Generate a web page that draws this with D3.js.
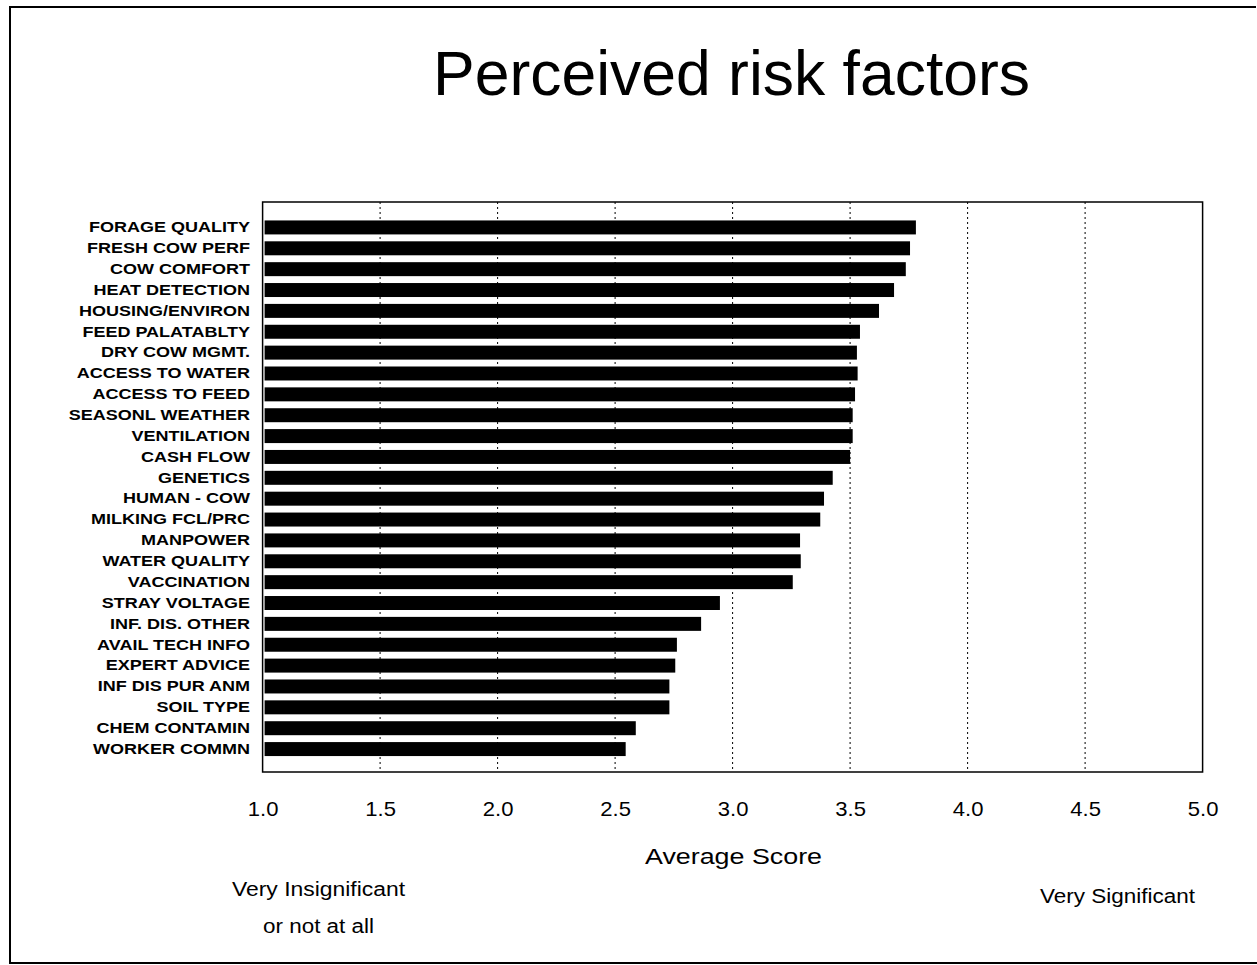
<!DOCTYPE html>
<html>
<head>
<meta charset="utf-8">
<script src="https://cdn.jsdelivr.net/npm/d3@7"></script>
<style>
  html, body { margin: 0; padding: 0; background: #fff; }
  svg { display: block; }
</style>
</head>
<body>
<svg id="chart" width="1257" height="965"></svg>
<script>
// Risk factors, ranked by average score (top to bottom)
const factors = [
  "FORAGE QUALITY", "FRESH COW PERF", "COW COMFORT", "HEAT DETECTION",
  "HOUSING/ENVIRON", "FEED PALATABLTY", "DRY COW MGMT.", "ACCESS TO WATER",
  "ACCESS TO FEED", "SEASONL WEATHER", "VENTILATION", "CASH FLOW",
  "GENETICS", "HUMAN - COW", "MILKING FCL/PRC", "MANPOWER",
  "WATER QUALITY", "VACCINATION", "STRAY VOLTAGE", "INF. DIS. OTHER",
  "AVAIL TECH INFO", "EXPERT ADVICE", "INF DIS PUR ANM", "SOIL TYPE",
  "CHEM CONTAMIN", "WORKER COMMN"
];

const scores = [
  3.78, 3.755, 3.737, 3.687,
  3.623, 3.542, 3.529, 3.532,
  3.521, 3.511, 3.511, 3.50,
  3.426, 3.389, 3.373, 3.287,
  3.290, 3.256, 2.946, 2.866,
  2.763, 2.756, 2.731, 2.731,
  2.588, 2.545
];

const tickValues = [1.0, 1.5, 2.0, 2.5, 3.0, 3.5, 4.0, 4.5, 5.0];

const titleText = "Perceived risk factors";
const axisTitle = "Average Score";
const lowEndNote = ["Very Insignificant", "or not at all"];
const highEndNote = "Very Significant";

const svg = d3.select("#chart");
const font = "'Liberation Sans', Arial, Helvetica, sans-serif";

// widen a text node horizontally, either by a factor or to a fixed width
function stretch(node, factor, width) {
  const w = node.getComputedTextLength();
  const target = width != null ? width : w * factor;
  node.setAttribute("textLength", target);
  node.setAttribute("lengthAdjust", "spacingAndGlyphs");
}

// outer frame
svg.append("path")
  .attr("d", "M1256,7 L10,7 L10,963 L1257,963")
  .attr("fill", "none")
  .attr("stroke", "#000")
  .attr("stroke-width", 2);

const plot = { left: 262.6, right: 1202.6, top: 202, bottom: 772 };

const x = d3.scaleLinear().domain([1, 5]).range([plot.left, plot.right]);
const y = d3.scaleBand()
  .domain(factors)
  .range([plot.top + 15, plot.bottom - 12.5])
  .paddingInner(0.33)
  .paddingOuter(0.165);

// title
svg.append("text")
  .attr("x", 731.5).attr("y", 95)
  .attr("text-anchor", "middle")
  .attr("font-family", font)
  .attr("font-size", 63)
  .attr("fill", "#000")
  .text(titleText)
  .each(function () { stretch(this, null, 597); });

// dotted vertical gridlines
svg.append("g")
  .selectAll("line")
  .data(tickValues.filter(v => v > 1 && v < 5))
  .join("line")
  .attr("x1", d => x(d)).attr("x2", d => x(d))
  .attr("y1", plot.top).attr("y2", plot.bottom)
  .attr("stroke", "#000")
  .attr("stroke-width", 1)
  .attr("stroke-dasharray", "2,3");

// bars
svg.append("g")
  .selectAll("rect")
  .data(factors.map((f, i) => ({ f, v: scores[i] })))
  .join("rect")
  .attr("x", x(1) + 2)
  .attr("y", d => y(d.f))
  .attr("width", d => x(d.v) - x(1) - 2)
  .attr("height", y.bandwidth())
  .attr("fill", "#000");

// plot frame
svg.append("rect")
  .attr("x", plot.left).attr("y", plot.top)
  .attr("width", plot.right - plot.left)
  .attr("height", plot.bottom - plot.top)
  .attr("fill", "none")
  .attr("stroke", "#000")
  .attr("stroke-width", 1.5);

// category labels
const yAxis = d3.axisLeft(y).tickSize(0).tickPadding(12.5);
const yg = svg.append("g")
  .attr("transform", `translate(${plot.left},0)`)
  .call(yAxis);
yg.select(".domain").remove();
yg.selectAll("text")
  .attr("font-family", font)
  .attr("font-weight", "bold")
  .attr("font-size", 15)
  .attr("fill", "#000")
  .each(function () { stretch(this, 1.2); });

// score axis labels
const xAxis = d3.axisBottom(x)
  .tickValues(tickValues)
  .tickFormat(d3.format(".1f"))
  .tickSize(0)
  .tickPadding(29);
const xg = svg.append("g")
  .attr("transform", `translate(0,${plot.bottom})`)
  .call(xAxis);
xg.select(".domain").remove();
xg.selectAll("text")
  .attr("font-family", font)
  .attr("font-size", 21)
  .attr("fill", "#000")
  .each(function () { stretch(this, 1.05); });

// axis title
svg.append("text")
  .attr("x", 733.5).attr("y", 864)
  .attr("text-anchor", "middle")
  .attr("font-family", font)
  .attr("font-size", 22)
  .attr("fill", "#000")
  .text(axisTitle)
  .each(function () { stretch(this, null, 177); });

// scale end notes
const lowWidths = [173, 111];
svg.append("g")
  .selectAll("text")
  .data(lowEndNote)
  .join("text")
  .attr("x", 318.5)
  .attr("y", (d, i) => 896 + i * 37)
  .attr("text-anchor", "middle")
  .attr("font-family", font)
  .attr("font-size", 20)
  .attr("fill", "#000")
  .text(d => d)
  .each(function (d, i) { stretch(this, null, lowWidths[i]); });

svg.append("text")
  .attr("x", 1117.5).attr("y", 903)
  .attr("text-anchor", "middle")
  .attr("font-family", font)
  .attr("font-size", 20)
  .attr("fill", "#000")
  .text(highEndNote)
  .each(function () { stretch(this, null, 155); });
</script>
</body>
</html>
